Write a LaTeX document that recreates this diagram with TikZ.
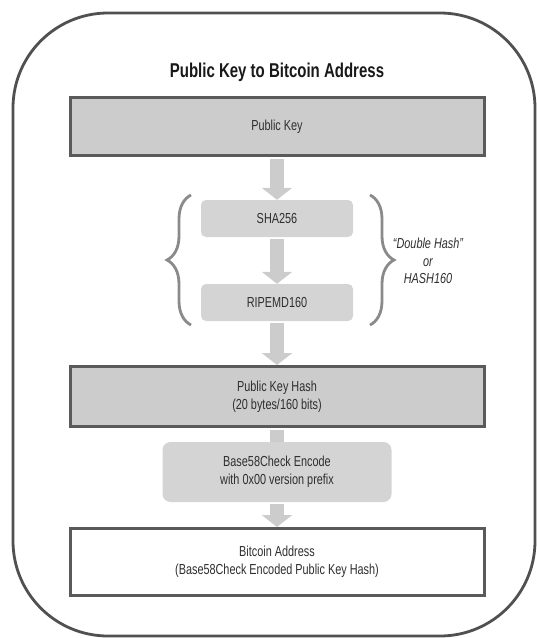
\documentclass[tikz,border=0pt]{standalone}
\usepackage{fontspec}
\setmainfont{Liberation Sans}[FakeStretch=0.75]
\usetikzlibrary{arrows.meta,decorations.pathreplacing}

\definecolor{framegray}{HTML}{505050}
\definecolor{edgegray}{HTML}{5A5A5A}
\definecolor{boxgray}{HTML}{CCCCCC}
\definecolor{stepgray}{HTML}{D4D4D4}
\definecolor{textgray}{HTML}{2E2E2E}
\definecolor{bracegray}{HTML}{8A8A8A}

\begin{document}
\begin{tikzpicture}[x=1pt,y=-1pt]

\useasboundingbox (0,0) rectangle (537,638);

\tikzstyle{keybox}=[draw=edgegray,fill=boxgray,line width=3pt,minimum width=414pt,text=textgray,align=center,font=\fontsize{14.5}{18}\selectfont]
\tikzstyle{hashbox}=[fill=stepgray,rounded corners=5pt,minimum width=152pt,minimum height=37pt,text=textgray,align=center,font=\fontsize{14.5}{18}\selectfont]
\tikzstyle{flow}=[draw=boxgray,line width=14pt,-{Triangle[width=30pt,length=12pt]},shorten <=1.5pt]
\tikzstyle{hashbrace}=[draw=bracegray,line width=2.8pt,decorate,decoration={brace,amplitude=24pt}]

% Outer frame and title
\draw[draw=framegray,line width=2.8pt,rounded corners=95pt] (13,13) rectangle (535,636);
\node[font=\bfseries\fontsize{20}{22}\selectfont,text=black!90] (title) at (277,72) {Public Key to Bitcoin Address};

% The steps
\node[keybox,minimum height=58pt] (pubkey) at (277,126.5) {Public Key};
\node[hashbox] (sha) at (277,218.5) {SHA256};
\node[hashbox] (ripemd) at (277,302.5) {RIPEMD160};
\node[keybox,minimum height=60pt] (pkh) at (277,396.5) {Public Key Hash\\(20 bytes/160 bits)};
\node[hashbox,rounded corners=8pt,minimum width=229pt,minimum height=60pt] (bsf) at (277,472) {Base58Check Encode\\with 0x00 version prefix};
\node[keybox,fill=white,minimum height=67pt] (addr) at (277,562) {Bitcoin Address\\(Base58Check Encoded Public Key Hash)};

% Arrows between the steps
\draw[flow] (pubkey.south) -- (sha.north);
\draw[flow] (sha.south) -- (ripemd.north);
\draw[flow] (ripemd.south) -- (pkh.north);
\draw[draw=boxgray,line width=14pt,shorten <=1.5pt] (pkh.south) -- (bsf.north);
\draw[flow] (bsf.south) -- (addr.north);

% Braces round the double hash
\draw[hashbrace] (191,325) -- (191,195);
\draw[hashbrace] (370,195) -- (370,325);
\node[font=\itshape\fontsize{14.5}{17.5}\selectfont,text=textgray,align=center] (dhash) at (428,261) {``Double Hash''\\or\\HASH160};

\end{tikzpicture}
\end{document}
